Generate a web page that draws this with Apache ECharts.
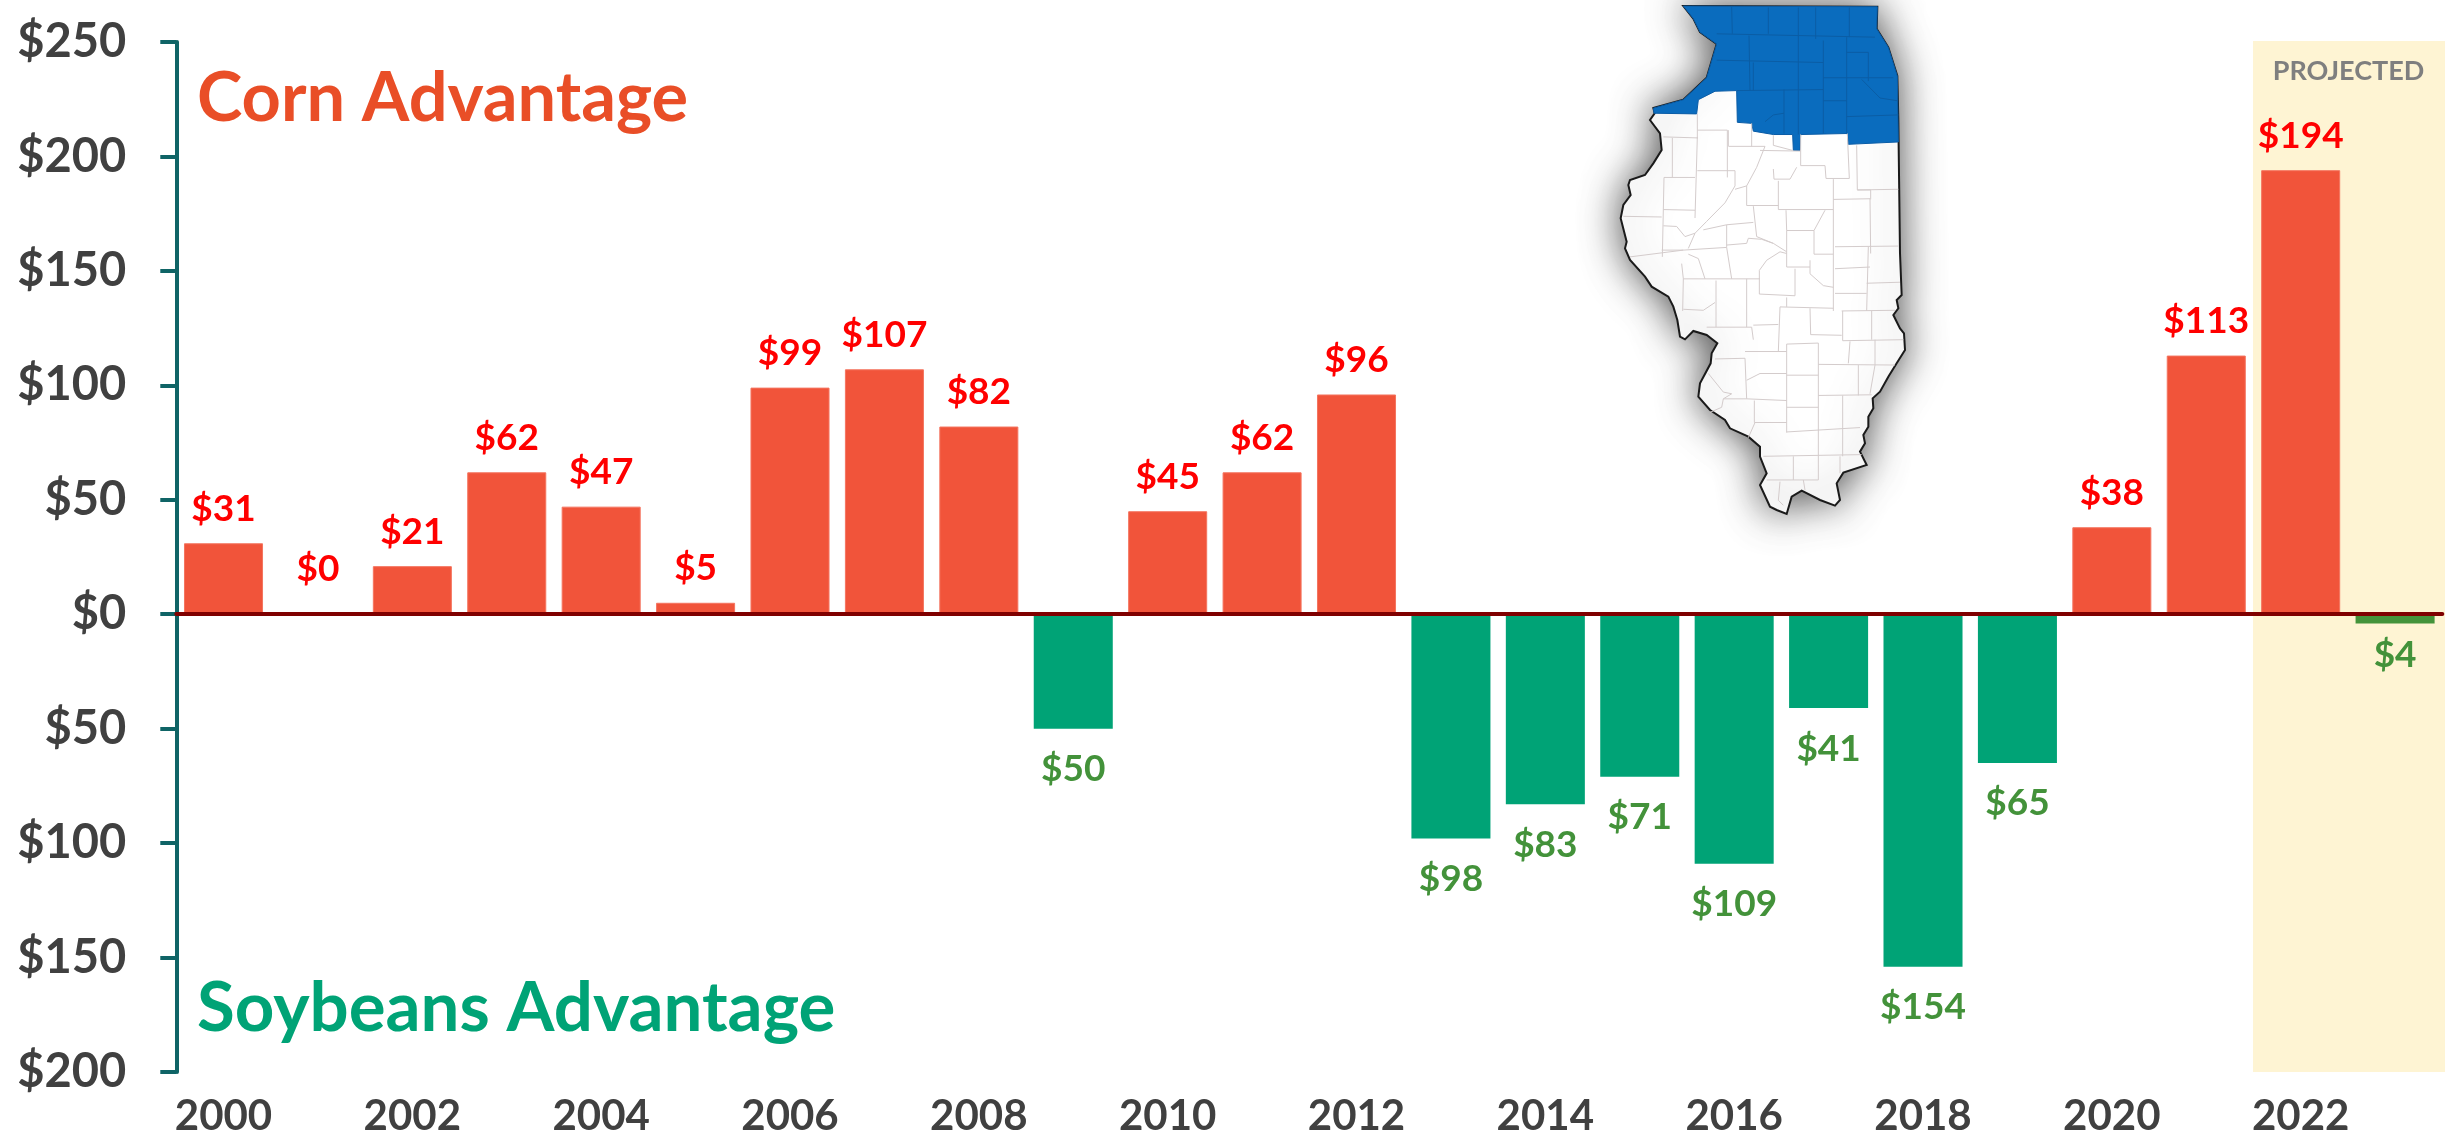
<!DOCTYPE html>
<html>
<head>
<meta charset="utf-8">
<style>html,body{margin:0;padding:0;background:#fff}#chart{width:2451px;height:1140px}</style>
<script src="https://cdn.jsdelivr.net/npm/echarts@6/dist/echarts.min.js"></script>
</head>
<body>
<div id="chart"></div>
<script>
const years = ['2000','2001','2002','2003','2004','2005','2006','2007','2008','2009','2010','2011','2012','2013','2014','2015','2016','2017','2018','2019','2020','2021','2022','2023'];
const advantage = [31,0,21,62,47,5,99,107,82,-50,45,62,96,-98,-83,-71,-109,-41,-154,-65,38,113,194,-4];
const projectedYear = '2023';

// Illinois illustration (decorative picture, 3 units per pixel from x=1560, y=0)
const mapOutline = [[370,18],[952,20],[950,86],[985,142],[1012,228],[1015,360],[1020,760],[1025,885],[1010,900],[1015,925],[1000,945],[1020,985],[1032,1000],[1035,1050],[1010,1090],[985,1130],[960,1175],[938,1195],[940,1225],[925,1250],[925,1280],[910,1305],[915,1330],[900,1355],[920,1395],[850,1418],[830,1450],[840,1500],[825,1517],[780,1500],[725,1472],[695,1490],[680,1542],[650,1530],[630,1520],[600,1455],[620,1420],[600,1370],[600,1340],[565,1310],[510,1285],[495,1260],[450,1230],[415,1190],[420,1150],[452,1090],[455,1060],[472,1030],[440,1005],[400,993],[375,1018],[360,1010],[352,960],[340,920],[325,890],[275,860],[255,830],[210,780],[195,745],[200,725],[182,655],[190,615],[212,585],[205,555],[210,540],[255,525],[280,490],[305,450],[300,400],[270,360],[284,340],[280,324],[370,299],[440,233],[470,132],[420,96],[400,56]];
const mapBlue = [[370,18],[952,20],[950,85],[985,140],[1012,225],[1015,420],[865,427],[862,395],[722,398],[720,445],[700,445],[698,398],[640,398],[580,388],[575,365],[532,362],[530,268],[465,270],[415,295],[410,337],[282,335],[280,320],[370,295],[440,230],[470,130],[420,95],[400,55]];
const blueCounties = [[[515,20],[517,100]],[[625,22],[625,100]],[[715,22],[715,398]],[[767,22],[767,115]],[[868,22],[868,110]],[[470,100],[945,110]],[[567,105],[570,268]],[[470,178],[790,185]],[[580,185],[580,268]],[[530,268],[790,265]],[[672,265],[672,395]],[[790,120],[790,395]],[[790,230],[1000,230]],[[860,110],[860,395]],[[925,155],[925,240]],[[860,155],[925,155]],[[790,298],[860,298]],[[905,235],[960,290],[1012,298]],[[860,345],[1015,340]],[[615,360],[640,340],[672,335]]];
const whiteCounties = [[[412,385],[502,385],[502,525]],[[412,337],[412,410]],[[310,405],[412,408]],[[337,408],[337,525]],[[412,405],[405,645]],[[412,505],[525,505]],[[525,505],[525,550],[495,600],[440,655],[405,690],[385,735]],[[312,525],[405,525]],[[312,525],[307,760]],[[190,640],[305,642]],[[310,620],[405,622]],[[310,668],[350,670],[375,700],[405,690]],[[210,760],[370,740]],[[305,740],[370,740],[500,732]],[[505,432],[505,385]],[[505,433],[615,433],[590,495],[560,550],[525,560]],[[575,365],[575,433]],[[640,400],[640,430],[698,445]],[[600,445],[722,447]],[[722,398],[722,490],[795,490],[798,528],[868,528],[862,395]],[[890,430],[892,562],[1015,560]],[[640,500],[642,530],[690,530],[710,495]],[[655,535],[655,620],[820,620]],[[560,550],[560,608],[655,608]],[[820,530],[820,920]],[[820,590],[930,588],[932,750]],[[892,562],[932,562],[932,590]],[[580,610],[590,700],[640,720],[680,745]],[[500,665],[580,658]],[[430,680],[500,665]],[[500,665],[500,732],[515,825]],[[500,725],[560,720],[565,705],[605,708],[640,720]],[[678,622],[680,682],[762,682],[795,622]],[[762,682],[762,752],[820,752]],[[680,682],[680,790],[750,790]],[[370,825],[600,825]],[[365,780],[370,825],[368,920]],[[385,752],[415,765],[435,825]],[[468,830],[468,968]],[[560,825],[560,968]],[[598,800],[598,870],[705,875],[705,795]],[[598,800],[620,770],[660,745],[680,750]],[[750,770],[750,810],[790,845],[820,850]],[[825,730],[1015,728]],[[825,795],[930,790]],[[925,730],[920,920]],[[920,838],[1020,835]],[[825,868],[920,868]],[[660,908],[820,912]],[[660,908],[655,1040]],[[680,880],[680,908]],[[750,912],[752,990],[845,992]],[[845,920],[1005,918]],[[848,920],[848,1008],[1030,1005]],[[935,920],[935,1005]],[[440,968],[575,968]],[[575,968],[580,1005]],[[580,962],[655,960]],[[465,1062],[555,1060],[560,1180]],[[555,1040],[680,1040]],[[680,1018],[775,1015],[775,1420]],[[680,1018],[680,1280]],[[775,1078],[1005,1080]],[[895,1080],[895,1170]],[[775,1170],[935,1168]],[[870,1010],[865,1075]],[[945,1005],[945,1080],[930,1165]],[[560,1125],[600,1105],[680,1105]],[[680,1110],[775,1110]],[[680,1205],[775,1205]],[[680,1278],[900,1265]],[[560,1180],[680,1185]],[[490,1180],[560,1180]],[[583,1185],[583,1250],[680,1250]],[[848,1170],[848,1350]],[[700,1350],[700,1420]],[[610,1350],[905,1345]],[[620,1420],[775,1420]],[[840,1350],[840,1400]],[[445,1105],[490,1160],[515,1165],[490,1180],[485,1205],[450,1220]],[[585,1250],[565,1295]],[[660,1425],[655,1480],[670,1495]],[[730,1420],[735,1450]],[[370,915],[430,918],[465,895]]];

const FONT = 'Lato, "Open Sans", sans-serif';
const mapPt = p => [1560 + p[0] / 3, p[1] / 3];
const sketchPt = p => [1560 + p[0] / 3, p[1] * 1.014 / 3];

const chart = echarts.init(document.getElementById('chart'), null, {renderer: 'canvas'});

const labelGap = v => v === 0 ? 26 : v === -4 ? 13 : v < 0 ? 22 : 16;

const barData = advantage.map((v, i) => {
  const green = v < 0;
  const soyBar = years[i] === projectedYear ? '#44933A' : '#00A376';
  return {
    value: v,
    itemStyle: {
      color: green ? soyBar : '#F1543A',
      borderColor: green ? soyBar : '#F4745F',
      borderWidth: green ? 0 : 1
    },
    label: {
      position: green ? 'bottom' : 'top',
      color: green ? '#43923A' : '#FF0000',
      distance: labelGap(v)
    }
  };
});

const mapGraphics = [
  {type: 'polygon', z: 1, shape: {points: mapOutline.map(mapPt)},
   style: {fill: '#fff', stroke: '#1a1a1a', lineWidth: 2, shadowBlur: 40, shadowColor: 'rgba(0,0,0,0.7)'}},
  {type: 'polygon', z: 2, shape: {points: mapBlue.map(sketchPt)},
   style: {fill: '#0A6CBE', stroke: '#0A5CA6', lineWidth: 1}}
];
whiteCounties.forEach(l => mapGraphics.push({type: 'polyline', z: 2, shape: {points: l.map(sketchPt)}, style: {stroke: '#d4cccc', lineWidth: 1, fill: null}}));
blueCounties.forEach(l => mapGraphics.push({type: 'polyline', z: 3, shape: {points: l.map(sketchPt)}, style: {stroke: '#0B5DA5', lineWidth: 1, fill: null}}));

chart.setOption({
  animation: false,
  backgroundColor: '#fff',
  grid: {left: 176.3, right: 8.7, top: 42, bottom: 68},
  xAxis: [
    {
      type: 'category', data: years, position: 'bottom',
      axisLine: {show: false, onZero: false}, axisTick: {show: false},
      axisLabel: {interval: 1, margin: 23, fontFamily: FONT, fontWeight: 'bold', fontSize: 42, color: '#404040', hideOverlap: false}
    },
    {
      type: 'category', data: years, position: 'bottom', z: 10,
      axisLine: {show: true, onZero: true, lineStyle: {color: '#7F0000', width: 4}},
      axisTick: {show: false}, axisLabel: {show: false}
    }
  ],
  yAxis: {
    type: 'value', min: -200, max: 250, interval: 50,
    axisLine: {show: true, lineStyle: {color: '#0F6466', width: 4}},
    axisTick: {show: true, length: 16, lineStyle: {color: '#0F6466', width: 4}},
    splitLine: {show: false},
    axisLabel: {
      margin: 50, fontFamily: FONT, fontWeight: 'bold', fontSize: 47, color: '#404040',
      formatter: v => '$' + Math.abs(v)
    }
  },
  series: [{
    type: 'bar', data: barData, barCategoryGap: '16.3%', xAxisIndex: 0,
    label: {
      show: true, fontFamily: FONT, fontWeight: 'bold', fontSize: 37,
      formatter: p => '$' + Math.abs(p.value)
    }
  }],
  graphic: {elements: [
    {type: 'rect', z: -1, shape: {x: 2253, y: 41, width: 192, height: 1031}, style: {fill: '#FEF4D3'}},
    {type: 'text', z: 5, style: {x: 2348.5, y: 71, text: 'PROJECTED', fill: '#7F7F7F', font: 'bold 27px ' + FONT, align: 'center', verticalAlign: 'middle'}},
    {type: 'text', z: 5, style: {x: 197, y: 99, text: 'Corn Advantage', fill: '#E94E27', font: 'bold 68.5px ' + FONT, align: 'left', verticalAlign: 'middle'}},
    {type: 'text', z: 5, style: {x: 197, y: 1009, text: 'Soybeans Advantage', fill: '#00A376', font: 'bold 69px ' + FONT, align: 'left', verticalAlign: 'middle'}}
  ].concat(mapGraphics)}
});
</script>
</body>
</html>
